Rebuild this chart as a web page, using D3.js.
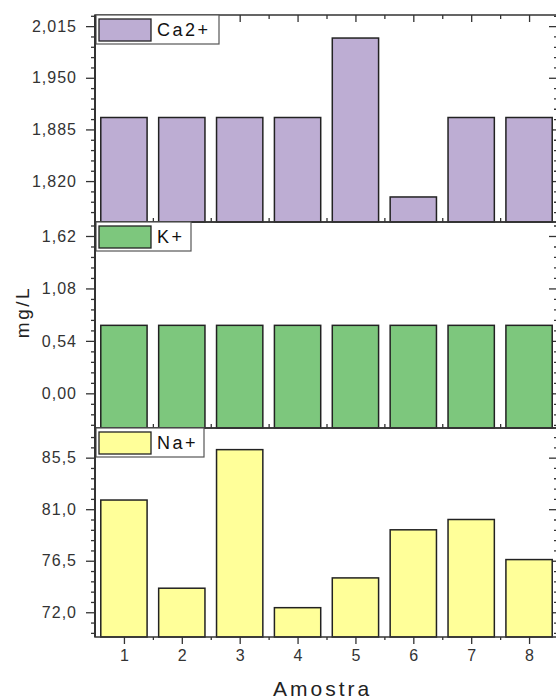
<!DOCTYPE html>
<html>
<head>
<meta charset="utf-8">
<script src="https://cdn.jsdelivr.net/npm/d3@7"></script>
<style>
  body { margin: 0; background: #fff; }
  svg { display: block; font-family: "Liberation Sans", Arial, sans-serif; }
</style>
</head>
<body>
<svg id="chart" width="556" height="699"></svg>
<script>
// Donnees (mg/L par amostra)
const samples = [1, 2, 3, 4, 5, 6, 7, 8];
const ca2 = [1.9, 1.9, 1.9, 1.9, 2.0, 1.8, 1.9, 1.9];
const kPlus = [0.7, 0.7, 0.7, 0.7, 0.7, 0.7, 0.7, 0.7];
const naPlus = [81.8, 74.1, 86.2, 72.4, 75.0, 79.2, 80.1, 76.6];

const caTicks = [1.820, 1.885, 1.950, 2.015];
const kTicks = [0, 0.54, 1.08, 1.62];
const naTicks = [72, 76.5, 81, 85.5];

const svg = d3.select("#chart");
const left = 95, right = 558;

const x = d3.scaleLinear().domain([0.5, 8.5]).range([left, right]);
const barW = x(1.3) - x(0.5);
const halfTicks = samples.map(function(d) { return d + 0.5; }).filter(function(d) { return d < 8.5; });

// Un panneau par ion, empiles verticalement
const panels = [
    { name: "Ca2+", values: ca2, ticks: caTicks, domain: [1.7685, 2.029], digits: 3,
      top: 15, bottom: 222, color: "#bdadd3", legendW: 123 },
    { name: "K+", values: kPlus, ticks: kTicks, domain: [-0.357, 1.764], digits: 2,
      top: 222, bottom: 428, color: "#7dc77d", legendW: 95 },
    { name: "Na+", values: naPlus, ticks: naTicks, domain: [69.84, 88.09], digits: 1,
      top: 428, bottom: 637, color: "#ffff99", legendW: 108 }
];

function commaFormat(digits) {
    const f = d3.format("." + digits + "f");
    return function(v) { return f(v).replace(".", ","); };
}

function minorTicks(ticks, domain) {
    const step = (ticks[1] - ticks[0]) / 5;
    const out = [];
    for (let v = ticks[0] - step * 20; v <= domain[1]; v += step) {
        if (v >= domain[0] && !ticks.some(function(t) { return Math.abs(t - v) < step / 10; })) {
            out.push(v);
        }
    }
    return out;
}

function styleAxis(g) {
    g.select(".domain").remove();
    g.selectAll(".tick line").attr("stroke", "#333").attr("stroke-width", 1.3);
    g.selectAll(".tick text").attr("fill", "#333");
}

panels.forEach(function(p, i) {
    const y = d3.scaleLinear().domain(p.domain).range([p.bottom, p.top]);
    const minors = minorTicks(p.ticks, p.domain);
    const g = svg.append("g");

    // Axe gauche : graduations vers l'exterieur
    g.append("g").attr("transform", "translate(" + left + ",0)")
        .call(d3.axisLeft(y).tickValues(p.ticks).tickSize(9).tickSizeOuter(0)
            .tickPadding(9).tickFormat(commaFormat(p.digits)))
        .call(styleAxis)
        .call(function(a) {
            a.selectAll(".tick text")
                .attr("font-size", 16)
                .attr("letter-spacing", "1px")
                .attr("font-family", "Liberation Sans, Arial, sans-serif");
        });
    g.append("g").attr("transform", "translate(" + left + ",0)")
        .call(d3.axisLeft(y).tickValues(minors).tickSize(4).tickFormat(""))
        .call(styleAxis);

    // Axe droit : graduations vers l'interieur
    g.append("g").attr("transform", "translate(" + right + ",0)")
        .call(d3.axisLeft(y).tickValues(p.ticks).tickSize(9).tickFormat(""))
        .call(styleAxis);
    g.append("g").attr("transform", "translate(" + right + ",0)")
        .call(d3.axisLeft(y).tickValues(minors).tickSize(4).tickFormat(""))
        .call(styleAxis);

    if (i === 0) {
        g.append("g").attr("transform", "translate(0," + p.top + ")")
            .call(d3.axisBottom(x).tickValues(samples).tickSize(7).tickFormat(""))
            .call(styleAxis);
        g.append("g").attr("transform", "translate(0," + p.top + ")")
            .call(d3.axisBottom(x).tickValues(halfTicks).tickSize(4).tickFormat(""))
            .call(styleAxis);
    }

    if (i < panels.length - 1) {
        g.append("g").attr("transform", "translate(0," + p.bottom + ")")
            .call(d3.axisTop(x).tickValues(samples).tickSize(7).tickFormat(""))
            .call(styleAxis);
        g.append("g").attr("transform", "translate(0," + p.bottom + ")")
            .call(d3.axisTop(x).tickValues(halfTicks).tickSize(4).tickFormat(""))
            .call(styleAxis);
    } else {
        g.append("g").attr("transform", "translate(0," + p.bottom + ")")
            .call(d3.axisBottom(x).tickValues(samples).tickSize(7).tickPadding(6).tickFormat(d3.format("d")))
            .call(styleAxis)
            .call(function(a) {
                a.selectAll(".tick text").attr("font-size", 16)
                    .attr("font-family", "Liberation Sans, Arial, sans-serif");
            });
        g.append("g").attr("transform", "translate(0," + p.bottom + ")")
            .call(d3.axisBottom(x).tickValues(halfTicks).tickSize(3).tickFormat(""))
            .call(styleAxis);
    }

    // Barres
    g.selectAll(".bar")
        .data(p.values)
        .enter()
        .append("rect")
        .attr("class", "bar")
        .attr("x", function(d, j) { return x(samples[j]) - barW / 2; })
        .attr("width", barW)
        .attr("y", function(d) { return y(d); })
        .attr("height", function(d) { return p.bottom - y(d); })
        .attr("fill", p.color)
        .attr("stroke", "#222")
        .attr("stroke-width", 1.5);

    // Cadre du panneau
    g.append("rect")
        .attr("x", left).attr("y", p.top)
        .attr("width", right - left).attr("height", p.bottom - p.top)
        .attr("fill", "none").attr("stroke", "#333").attr("stroke-width", 1.5);

    // Legende
    const lg = g.append("g").attr("transform", "translate(" + (left + 1) + "," + p.top + ")");
    lg.append("rect")
        .attr("x", 0).attr("y", 0)
        .attr("width", p.legendW).attr("height", 29)
        .attr("fill", "#fff").attr("stroke", "#555").attr("stroke-width", 1.2);
    lg.append("rect")
        .attr("x", 3).attr("y", 4)
        .attr("width", 52).attr("height", 22)
        .attr("fill", p.color).attr("stroke", "#222").attr("stroke-width", 1.3);
    lg.append("text")
        .attr("x", 61).attr("y", 21)
        .attr("font-size", 18)
        .attr("letter-spacing", "2.5px")
        .attr("fill", "#111")
        .text(p.name);
});

svg.append("line")
    .attr("x1", left).attr("x2", left)
    .attr("y1", panels[0].top).attr("y2", panels[2].bottom)
    .attr("stroke", "#333").attr("stroke-width", 2);

svg.append("text")
    .attr("transform", "translate(29,312) rotate(-90)")
    .attr("text-anchor", "middle")
    .attr("font-size", 19)
    .attr("letter-spacing", "2.5px")
    .attr("fill", "#222")
    .text("mg/L");

svg.append("text")
    .attr("x", 273).attr("y", 696)
    .attr("font-size", 21)
    .attr("letter-spacing", "3px")
    .attr("fill", "#222")
    .text("Amostra");
</script>
</body>
</html>
